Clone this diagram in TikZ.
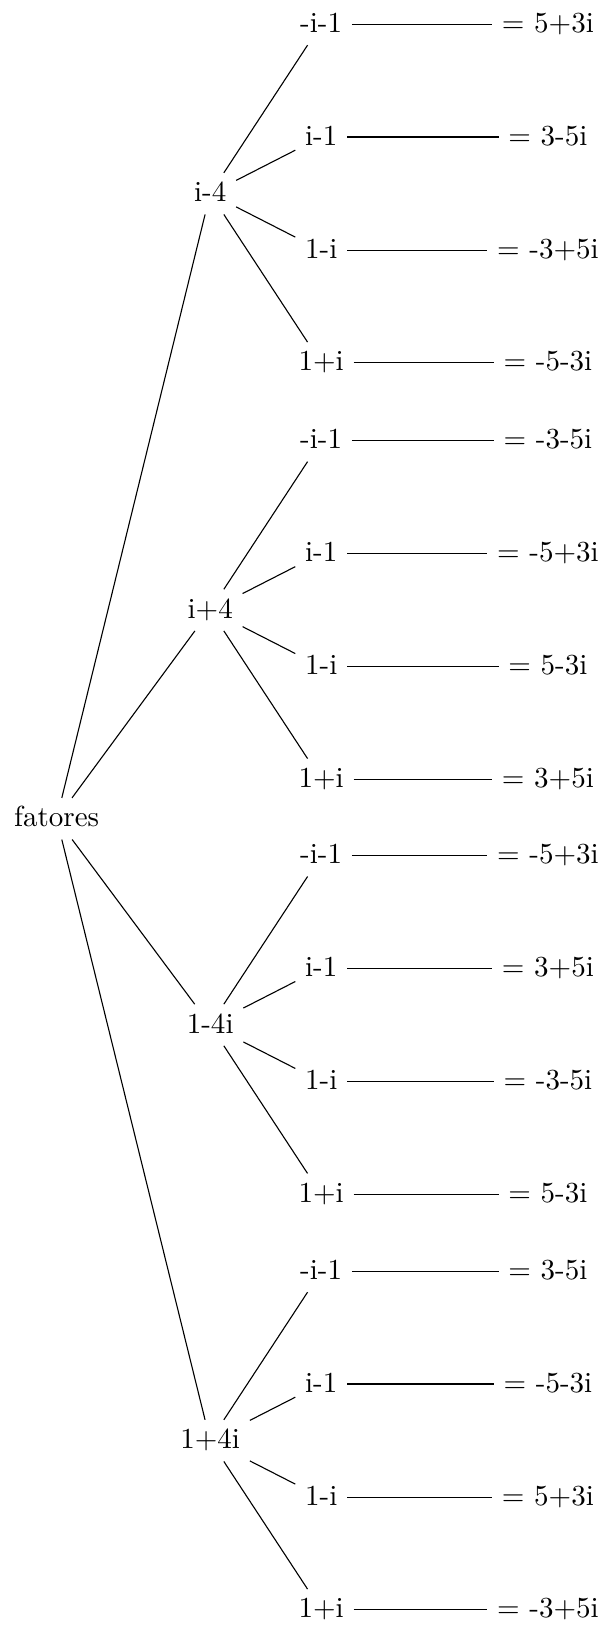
\documentclass[tikz,border=0pt]{standalone}
\usetikzlibrary{positioning}
\tikzset{t/.style={font=\fontsize{10.5}{12}\selectfont,text height=1.6ex,text depth=.25ex},
 wire/.style={line width=.4pt}}
\begin{document}
\begin{tikzpicture}[x=1cm,y=1cm]
\useasboundingbox (0,0) rectangle (7.71,-20.68);
\node[t] (fat) at (.72,-10.40) {fatores};
\foreach \g/\f/\y/\ra/\rb/\rc/\rd in {1/i-4/-2.46/= 5+3i/= 3-5i/= -3+5i/= -5-3i,
 2/i+4/-7.75/= -3-5i/= -5+3i/= 5-3i/= 3+5i,
 3/1-4i/-13.02/= -5+3i/= 3+5i/= -3-5i/= 5-3i,
 4/1+4i/-18.30/= 3-5i/= -5-3i/= 5+3i/= -3+5i}{
 \node[t] (g\g) at (2.67,\y) {\f};\draw[wire] (fat)--(g\g);
 \foreach \k/\c/\dy/\res in {1/-i-1/2.15/\ra,2/i-1/.72/\rb,3/1-i/-.72/\rc,4/1+i/-2.15/\rd}{
  \pgfmathsetmacro\yy{\y+(\dy)}
  \node[t] (g\g-\k) at (4.08,\yy) {\c};\node[t] (r\g-\k) at (6.96,\yy) {\res};
  \draw[wire] (g\g)--(g\g-\k);\draw[wire] (g\g-\k)--(r\g-\k);}}
\end{tikzpicture}
\end{document}
